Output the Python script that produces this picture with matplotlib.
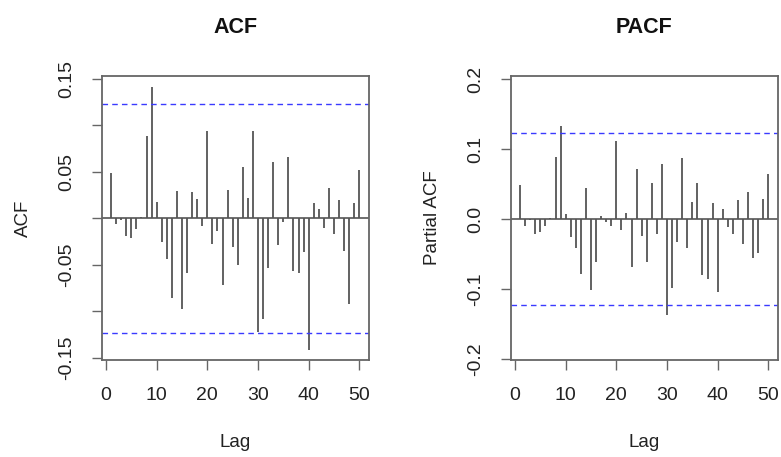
import numpy as np
import matplotlib.pyplot as plt

plt.rcParams['font.family'] = ['Liberation Sans', 'DejaVu Sans']

# lags 1..50
lags = np.arange(1, 51)

acf_vals = [0.049, -0.006, -0.002, -0.019, -0.021, -0.011, 0.001, 0.089, 0.141, 0.018,
            -0.025, -0.044, -0.085, 0.029, -0.097, -0.059, 0.028, 0.021, -0.008, 0.094,
            -0.028, -0.014, -0.072, 0.030, -0.031, -0.050, 0.055, 0.022, 0.094, -0.122,
            -0.108, -0.053, 0.061, -0.029, -0.004, 0.066, -0.057, -0.059, -0.036, -0.141,
            0.017, 0.010, -0.010, 0.033, -0.017, 0.020, -0.035, -0.092, 0.016, 0.052]

pacf_vals = [0.049, -0.010, -0.002, -0.021, -0.019, -0.010, 0.001, 0.089, 0.133, 0.007,
             -0.026, -0.041, -0.078, 0.044, -0.101, -0.062, 0.005, -0.004, -0.010, 0.111,
             -0.015, 0.008, -0.069, 0.071, -0.024, -0.062, 0.052, -0.021, 0.078, -0.137,
             -0.099, -0.033, 0.087, -0.041, 0.024, 0.052, -0.080, -0.085, 0.023, -0.104,
             0.015, -0.011, -0.021, 0.027, -0.036, 0.038, -0.055, -0.048, 0.029, 0.064]

# 95% confidence bound
ci = 0.123

x_ticks = [0, 10, 20, 30, 40, 50]
acf_yticks = [-0.15, -0.10, -0.05, 0.0, 0.05, 0.10, 0.15]
acf_ylabels = ["-0.15", "", "-0.05", "", "0.05", "", "0.15"]
pacf_yticks = [-0.2, -0.1, 0.0, 0.1, 0.2]
pacf_ylabels = ["-0.2", "-0.1", "0.0", "0.1", "0.2"]

W, H = 781, 457
fig = plt.figure(figsize=(W / 100, H / 100), dpi=100)


def px_axes(left, top, right, bottom):
    return fig.add_axes([left / W, 1 - bottom / H, (right - left) / W, (bottom - top) / H])


def draw_panel(ax, vals, yticks, ylabels, ylim, title, ylabel, ylabelpad):
    ax.vlines(lags, 0, vals, color='#555555', lw=1.3)
    ax.axhline(0, color='#555555', lw=1.2)
    ax.axhline(ci, color='#3a3aff', lw=1.0, ls=(0, (4, 3)))
    ax.axhline(-ci, color='#3a3aff', lw=1.0, ls=(0, (4, 3)))
    ax.set_xlim(-0.85, 51.9)
    ax.set_ylim(*ylim)
    ax.set_xticks(x_ticks)
    ax.set_yticks(yticks)
    ax.set_yticklabels(ylabels, rotation=90, va='center')
    ax.tick_params(direction='out', length=7.2, width=1.0, color='#666666',
                   labelsize=14, pad=12, labelcolor='#222222')
    for s in ax.spines.values():
        s.set_color('#666666')
        s.set_linewidth(1.3)
    ax.set_title(title, fontsize=15.5, fontweight='bold', pad=31, color='#111111')
    ax.set_xlabel("Lag", fontsize=13.5, labelpad=22, color='#222222')
    ax.set_ylabel(ylabel, fontsize=13.5, labelpad=ylabelpad, color='#222222')


ax1 = px_axes(101.7, 76, 369, 360)
draw_panel(ax1, acf_vals, acf_yticks, acf_ylabels, (-0.1521, 0.1529), "ACF", "ACF", 19)

ax2 = px_axes(510.7, 76, 778, 360)
draw_panel(ax2, pacf_vals, pacf_yticks, pacf_ylabels, (-0.2014, 0.2043), "PACF", "Partial ACF", 19)

fig.savefig("out.png", dpi=100)
